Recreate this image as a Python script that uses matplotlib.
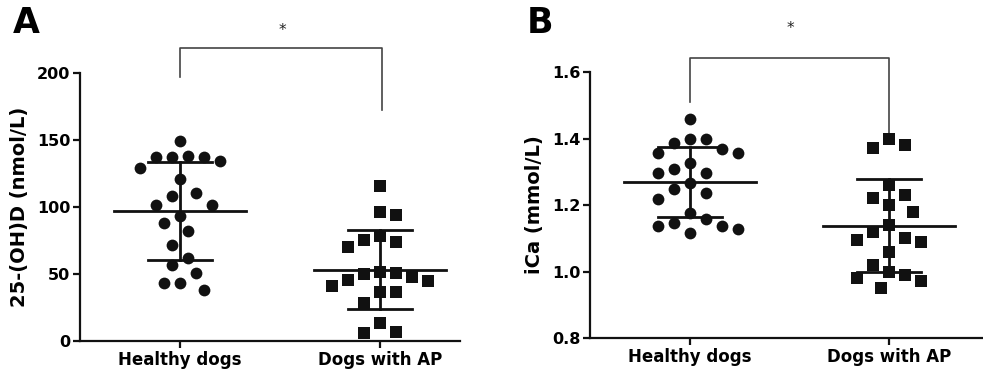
import numpy as np
import matplotlib
matplotlib.use("Agg")
import matplotlib.pyplot as plt

plt.rcParams['font.family'] = ['DejaVu Sans']

groups = ["Healthy dogs", "Dogs with AP"]

vitd_healthy = [149.4, 137.7, 137.0, 134.5, 137.0, 137.0, 129.0, 120.8, 108.3, 110.3,
                101.6, 101.6, 93.6, 88.4, 82.2, 71.7, 61.8, 56.8, 50.6, 43.6, 43.6, 38.1]
vitd_ap = [115.8, 94.1, 95.9, 78.5, 74.2, 70.0, 75.5, 51.8, 50.1, 45.6,
           41.1, 44.8, 48.1, 51.1, 36.4, 36.9, 28.1, 13.7, 6.2, 7.0]

ica_healthy = [1.458, 1.397, 1.397, 1.387, 1.367, 1.357, 1.357, 1.327, 1.297, 1.297, 1.307,
               1.267, 1.237, 1.247, 1.217, 1.177, 1.147, 1.157, 1.137, 1.137, 1.127, 1.117]
ica_ap = [1.40, 1.37, 1.38, 1.26, 1.22, 1.23, 1.20, 1.18, 1.14, 1.12,
          1.095, 1.10, 1.09, 1.06, 1.02, 1.00, 0.99, 0.98, 0.97, 0.95]

yticks_a = [0, 50, 100, 150, 200]
yticks_b = [0.8, 1.0, 1.2, 1.4, 1.6]

W, H = 983, 373
fig = plt.figure(figsize=(W / 100, H / 100), dpi=100)

axA = fig.add_axes([80 / W, 1 - 341 / H, 380 / W, 268 / H])
axB = fig.add_axes([590 / W, 1 - 338 / H, 393 / W, 266 / H])

BLACK = "#111111"


def swarm_offsets(ax, xc, vals, step=8.0, rx=12.0, ry=19.0):
    """Column-scatter placement computed in display pixels; returns x data positions."""
    vals = np.asarray(vals, float)
    order = np.argsort(-vals, kind="stable")
    pix = ax.transData.transform(np.column_stack([np.full(len(vals), xc), vals]))
    px_per_x = ax.transData.transform([[1, 0]])[0][0] - ax.transData.transform([[0, 0]])[0][0]
    placed = []
    xs = np.zeros(len(vals))
    balance = 0.0
    for i in order:
        py = pix[i, 1]
        cands = [0]
        for k in range(1, 40):
            if balance > 0:
                cands += [-k, k]
            else:
                cands += [k, -k]
        for k in cands:
            px = pix[i, 0] + k * step
            ok = all(((px - qx) / rx) ** 2 + ((py - qy) / ry) ** 2 >= 1.0 for qx, qy in placed)
            if ok:
                placed.append((px, py))
                xs[i] = xc + k * step / px_per_x
                balance += k
                break
    return xs


def draw_panel(ax, data, markers, ylim, yticks, ylabel, fmt):
    ax.set_xlim(-0.5, 1.47 if ax is axB else 1.4)
    ax.set_ylim(*ylim)
    for gi, (vals, mk) in enumerate(zip(data, markers)):
        xs = swarm_offsets(ax, gi, vals)
        ax.scatter(xs, vals, marker=mk, s=72 if mk == "o" else 64, color=BLACK,
                   linewidths=0, zorder=3, clip_on=False)
        m = np.mean(vals)
        sd = np.std(vals, ddof=1)
        ax.plot([gi - 0.33, gi + 0.33], [m, m], color=BLACK, lw=2.0, zorder=4)
        ax.plot([gi - 0.16, gi + 0.16], [m + sd, m + sd], color=BLACK, lw=2.0, zorder=4)
        ax.plot([gi - 0.16, gi + 0.16], [m - sd, m - sd], color=BLACK, lw=2.0, zorder=4)
        ax.plot([gi, gi], [m - sd, m + sd], color=BLACK, lw=2.0, zorder=4)
    ax.set_xticks([0, 1])
    ax.set_xticklabels(groups, fontsize=12, fontweight="bold")
    ax.set_yticks(yticks)
    ax.set_yticklabels([fmt(v) for v in yticks], fontsize=11.5, fontweight="bold")
    ax.set_ylabel(ylabel, fontsize=14, fontweight="bold", labelpad=6)
    for s in ("top", "right"):
        ax.spines[s].set_visible(False)
    for s in ("left", "bottom"):
        ax.spines[s].set_linewidth(1.6)
        ax.spines[s].set_color(BLACK)
    ax.tick_params(axis="both", direction="out", length=5, width=1.6, color=BLACK, pad=2)


draw_panel(axA, [vitd_healthy, vitd_ap], ["o", "s"], (0, 200), yticks_a,
           "25-(OH)D (nmol/L)", lambda v: f"{v:d}")
draw_panel(axB, [ica_healthy, ica_ap], ["o", "s"], (0.8, 1.6), yticks_b,
           "iCa (mmol/L)", lambda v: f"{v:.1f}")

# significance brackets
axA.plot([0, 0, 1.01, 1.01], [197, 218.7, 218.7, 172.4], color="#444444", lw=1.2, clip_on=False)
axA.text(0.51, 232, "*", ha="center", va="center", fontsize=11, color="#222222")
axB.plot([0, 0, 1.0, 1.0], [1.51, 1.642, 1.642, 1.395], color="#444444", lw=1.2, clip_on=False)
axB.text(0.505, 1.73, "*", ha="center", va="center", fontsize=11, color="#222222")

fig.text(13 / W, 1 - 23 / H, "A", fontsize=25, fontweight="bold", va="center", ha="left")
fig.text(527 / W, 1 - 23 / H, "B", fontsize=25, fontweight="bold", va="center", ha="left")

fig.savefig("out.png", dpi=100)
